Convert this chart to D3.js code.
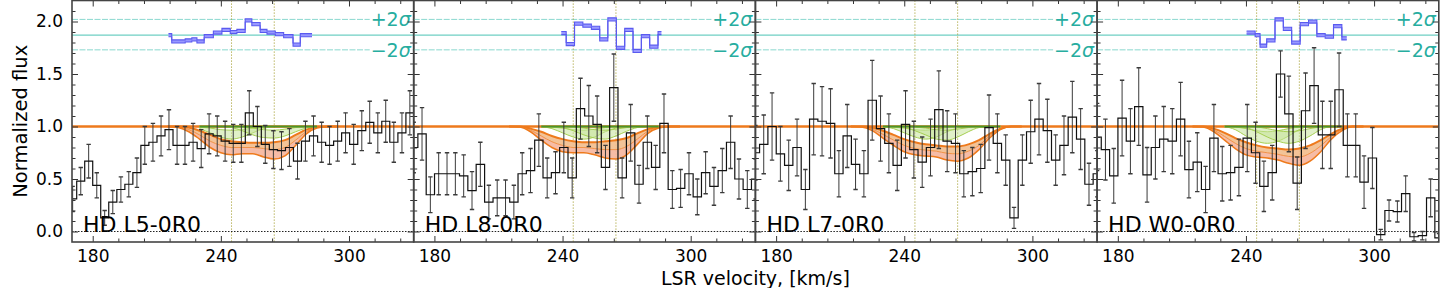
<!DOCTYPE html>
<html>
<head>
<meta charset="utf-8">
<script src="https://cdn.jsdelivr.net/npm/d3@7"></script>
<style>
  body { margin: 0; background: #fff; }
  svg { display: block; font-family: "DejaVu Sans", sans-serif; }
</style>
</head>
<body>
<svg id="chart" width="1440" height="288"></svg>
<script>
// ---- values ----
const panelNames = ["HD L5-0R0", "HD L8-0R0", "HD L7-0R0", "HD W0-0R0"];

// bin centres (km/s)
const velocityL5 = [170.6, 174.4, 178.1, 181.9, 185.6, 189.4, 193.2, 196.9, 200.7, 204.4, 208.2, 212.0, 215.7, 219.5, 223.2,
  227.0, 230.8, 234.5, 238.3, 242.0, 245.8, 249.6, 253.3, 257.1, 260.8, 264.6, 268.4, 272.1, 275.9, 279.6, 283.4,
  287.2, 290.9, 294.7, 298.4, 302.2, 306.0, 309.7, 313.5, 317.2, 321.0, 324.8, 328.5, 332.3];
const velocity = [170.3, 174.2, 178.1, 182.0, 185.9, 189.8, 193.7, 197.6, 201.5, 205.5, 209.4, 213.3, 217.2, 221.1, 225.0,
  228.9, 232.8, 236.7, 240.6, 244.5, 248.4, 252.3, 256.2, 260.1, 264.0, 267.9, 271.9, 275.8, 279.7, 283.6, 287.5,
  291.4, 295.3, 299.2, 303.1, 307.0, 310.9, 314.8, 318.7, 322.6, 326.5, 330.4];

const fluxL5 = [0.31, 0.48, 0.67, 0.44, 0.13, 0.28, 0.40, 0.45, 0.56, 0.82, 0.85, 0.91, 0.97, 0.82, 0.82, 0.85, 0.79, 0.93,
  0.91, 0.86, 0.84, 0.84, 1.13, 1.00, 0.83, 0.78, 0.77, 0.80, 0.67, 0.86, 0.91, 0.85, 0.82, 0.86, 0.94, 0.83, 0.96, 1.04,
  0.94, 1.05, 0.85, 0.94, 1.13, 1.13];
const errL5 = [0.12, 0.13, 0.16, 0.12, 0.07, 0.11, 0.12, 0.12, 0.14, 0.18, 0.18, 0.19, 0.19, 0.18, 0.18, 0.18, 0.18, 0.19,
  0.19, 0.19, 0.18, 0.18, 0.21, 0.19, 0.18, 0.18, 0.18, 0.18, 0.17, 0.19, 0.19, 0.19, 0.18, 0.19, 0.19, 0.19, 0.19, 0.20,
  0.19, 0.20, 0.19, 0.19, 0.21, 0.21];

const fluxL8 = [0.80, 0.93, 0.35, 0.55, 0.55, 0.55, 0.53, 0.39, 0.64, 0.28, 0.32, 0.32, 0.28, 0.55, 0.58, 0.87, 0.51, 0.56,
  0.80, 0.51, 1.17, 1.10, 1.02, 0.61, 1.37, 0.51, 0.94, 0.45, 0.85, 0.61, 1.03, 0.40, 0.41, 0.55, 0.33, 0.56, 0.43, 0.58,
  0.85, 0.50, 0.40, 0.50];
const errL8 = [0.24, 0.25, 0.17, 0.20, 0.20, 0.20, 0.20, 0.18, 0.21, 0.16, 0.17, 0.17, 0.16, 0.20, 0.21, 0.25, 0.19, 0.20,
  0.24, 0.19, 0.29, 0.29, 0.27, 0.21, 0.32, 0.19, 0.27, 0.18, 0.25, 0.21, 0.28, 0.18, 0.18, 0.20, 0.17, 0.20, 0.18, 0.21,
  0.25, 0.19, 0.18, 0.19];

const fluxL7 = [0.75, 0.83, 1.00, 0.74, 0.63, 0.80, 0.40, 1.07, 1.05, 1.03, 0.55, 0.91, 0.64, 0.55, 1.25, 0.98, 0.84, 0.63,
  1.02, 0.78, 0.66, 0.80, 1.16, 0.86, 0.84, 0.55, 0.57, 0.60, 0.99, 0.84, 0.68, 0.13, 0.68, 0.95, 1.07, 0.96, 0.68, 0.82,
  1.09, 0.88, 0.45, 0.55];
const errL7 = [0.26, 0.28, 0.32, 0.26, 0.24, 0.27, 0.19, 0.34, 0.33, 0.33, 0.22, 0.30, 0.24, 0.22, 0.38, 0.31, 0.28, 0.24,
  0.32, 0.27, 0.24, 0.27, 0.37, 0.29, 0.28, 0.22, 0.23, 0.23, 0.31, 0.28, 0.24, 0.10, 0.24, 0.30, 0.34, 0.30, 0.24, 0.28,
  0.34, 0.29, 0.20, 0.22];

const fluxW0 = [0.90, 0.78, 0.53, 1.08, 0.86, 1.19, 0.54, 0.80, 0.88, 0.86, 1.07, 0.59, 0.66, 0.40, 0.89, 0.55, 0.56, 0.61,
  0.89, 0.75, 0.43, 0.56, 1.50, 1.12, 0.46, 1.15, 1.39, 0.92, 0.92, 1.35, 0.82, 0.82, 0.47, 0.70, -0.03, 0.20, 0.19, 0.36,
  -0.05, -0.04, 0.32, -0.06];
const errW0 = [0.32, 0.29, 0.26, 0.36, 0.31, 0.37, 0.26, 0.30, 0.31, 0.31, 0.35, 0.27, 0.28, 0.22, 0.32, 0.26, 0.26, 0.27,
  0.32, 0.29, 0.24, 0.26, 0.22, 0.36, 0.25, 0.36, 0.36, 0.32, 0.32, 0.35, 0.30, 0.30, 0.25, 0.29, 0.05, 0.10, 0.10, 0.17,
  0.04, 0.04, 0.18, 0.04];

// fitted model (orange envelope) sampled at modelVel
const modelVel = [215, 220, 225, 230, 235, 240, 245, 250, 255, 260, 265, 270, 275, 280, 285, 290, 295];
const orangeHiL5 = [1, 1, 0.99, 0.96, 0.92, 0.88, 0.86, 0.85, 0.845, 0.845, 0.85, 0.87, 0.92, 0.97, 0.995, 1, 1];
const orangeMidL5 = [1, 0.995, 0.97, 0.92, 0.86, 0.82, 0.80, 0.80, 0.80, 0.79, 0.78, 0.80, 0.87, 0.95, 0.99, 1, 1];
const orangeLoL5 = [1, 0.99, 0.95, 0.88, 0.80, 0.75, 0.73, 0.74, 0.74, 0.71, 0.69, 0.72, 0.82, 0.93, 0.985, 1, 1];
const orangeHiL8 = [1, 1, 0.98, 0.95, 0.91, 0.88, 0.86, 0.85, 0.85, 0.86, 0.87, 0.89, 0.935, 0.975, 0.995, 1, 1];
const orangeMidL8 = [1, 1, 0.965, 0.91, 0.855, 0.82, 0.80, 0.80, 0.79, 0.78, 0.78, 0.81, 0.88, 0.955, 0.99, 1, 1];
const orangeLoL8 = [1, 0.995, 0.95, 0.87, 0.80, 0.76, 0.75, 0.75, 0.73, 0.70, 0.69, 0.73, 0.83, 0.935, 0.985, 1, 1];
const orangeHiL7 = [1, 1, 0.99, 0.96, 0.92, 0.88, 0.85, 0.83, 0.82, 0.81, 0.81, 0.83, 0.87, 0.93, 0.98, 1, 1];
const orangeMidL7 = [1, 1, 0.975, 0.925, 0.87, 0.82, 0.79, 0.775, 0.765, 0.745, 0.74, 0.765, 0.82, 0.91, 0.975, 1, 1];
const orangeLoL7 = [1, 0.995, 0.96, 0.89, 0.82, 0.76, 0.73, 0.72, 0.71, 0.68, 0.67, 0.70, 0.78, 0.89, 0.97, 1, 1];
const orangeHiW0 = [1, 1, 0.98, 0.94, 0.89, 0.85, 0.82, 0.80, 0.79, 0.78, 0.79, 0.82, 0.87, 0.93, 0.98, 1, 1];
const orangeMidW0 = [1, 1, 0.965, 0.905, 0.84, 0.79, 0.765, 0.75, 0.735, 0.715, 0.71, 0.745, 0.815, 0.905, 0.97, 1, 1];
const orangeLoW0 = [1, 0.995, 0.95, 0.87, 0.79, 0.73, 0.71, 0.70, 0.68, 0.65, 0.63, 0.67, 0.76, 0.88, 0.96, 1, 1];

// single components (green envelopes) sampled at greenVel
const greenVel = [230, 235, 240, 245, 250, 255, 260, 265, 270, 275, 280, 285];
const greenAHiL5 = [0.995, 0.985, 0.97, 0.965, 0.97, 0.985, 0.995, 1, 1, 1, 1, 1];
const greenALoL5 = [0.98, 0.94, 0.90, 0.88, 0.90, 0.94, 0.98, 1, 1, 1, 1, 1];
const greenBHiL5 = [1, 1, 1, 1, 0.995, 0.985, 0.97, 0.965, 0.975, 0.99, 1, 1];
const greenBLoL5 = [1, 1, 1, 0.99, 0.96, 0.92, 0.895, 0.89, 0.91, 0.95, 0.985, 1];
const greenAHiL8 = [1, 0.995, 0.985, 0.97, 0.965, 0.975, 0.99, 1, 1, 1, 1, 1];
const greenALoL8 = [1, 0.98, 0.94, 0.90, 0.88, 0.90, 0.95, 0.985, 1, 1, 1, 1];
const greenBHiL8 = [1, 1, 1, 0.995, 0.985, 0.97, 0.965, 0.975, 0.99, 1, 1, 1];
const greenBLoL8 = [1, 1, 0.99, 0.96, 0.92, 0.89, 0.88, 0.91, 0.955, 0.99, 1, 1];
const greenAHiL7 = [1, 0.995, 0.985, 0.97, 0.965, 0.975, 0.99, 1, 1, 1, 1, 1];
const greenALoL7 = [1, 0.98, 0.94, 0.90, 0.88, 0.90, 0.95, 0.985, 1, 1, 1, 1];
const greenBHiL7 = [1, 1, 1, 0.995, 0.985, 0.97, 0.965, 0.975, 0.99, 1, 1, 1];
const greenBLoL7 = [1, 1, 0.99, 0.96, 0.92, 0.88, 0.87, 0.90, 0.95, 0.99, 1, 1];
const greenAHiW0 = [1, 0.995, 0.98, 0.96, 0.95, 0.96, 0.98, 0.995, 1, 1, 1, 1];
const greenALoW0 = [1, 0.97, 0.91, 0.86, 0.84, 0.86, 0.91, 0.97, 1, 1, 1, 1];
const greenBHiW0 = [1, 1, 1, 0.995, 0.98, 0.96, 0.95, 0.96, 0.98, 0.995, 1, 1];
const greenBLoW0 = [1, 1, 0.99, 0.95, 0.90, 0.86, 0.84, 0.86, 0.91, 0.97, 1, 1];

// residual strip (blue steps): step edges and values
const residVelL5 = [215.5, 217.0, 223.3, 226.4, 228.8, 232.2, 236.5, 240.5, 244.4, 247.5, 251.4, 254.5, 258.4, 261.6,
  265.5, 269.4, 273.8, 277.2, 282.7];
const residL5 = [1.87, 1.81, 1.82, 1.83, 1.81, 1.86, 1.895, 1.92, 1.90, 1.91, 2.01, 1.975, 1.91, 1.895, 1.88, 1.86, 1.78, 1.87];
const residVelL8 = [239.4, 241.7, 245.6, 249.5, 253.5, 257.4, 261.2, 265.2, 269.1, 273.0, 276.9, 280.8, 284.7, 286.3];
const residL8 = [1.89, 1.785, 1.98, 1.96, 1.94, 1.83, 2.02, 1.75, 1.92, 1.72, 1.86, 1.76, 1.89];
const residVelW0 = [240.3, 244.3, 246.6, 249.7, 253.6, 257.5, 261.4, 265.4, 269.3, 273.2, 277.1, 281.0, 284.9, 287.2];
const residW0 = [1.895, 1.87, 1.77, 1.82, 2.02, 1.93, 1.80, 1.975, 2.00, 1.87, 1.855, 1.955, 1.84];

const componentVel = [245, 265];
const sigmaLevels = [2.02, 1.87, 1.73];
const sigmaLabels = ["+2", null, "\u22122"];
const xMajorTicks = [180, 240, 300];
const xMinorTicks = [192, 204, 216, 228, 252, 264, 276, 288, 312, 324];
const yMajorTicks = [0, 0.5, 1.0, 1.5, 2.0];
const yMinorTicks = [0.1, 0.2, 0.3, 0.4, 0.6, 0.7, 0.8, 0.9, 1.1, 1.2, 1.3, 1.4, 1.6, 1.7, 1.8, 1.9, 2.1];

const panels = [
  { name: panelNames[0], vel: velocityL5, flux: fluxL5, err: errL5, oHi: orangeHiL5, oMid: orangeMidL5, oLo: orangeLoL5,
    gA: [greenAHiL5, greenALoL5], gB: [greenBHiL5, greenBLoL5], rVel: residVelL5, r: residL5 },
  { name: panelNames[1], vel: velocity, flux: fluxL8, err: errL8, oHi: orangeHiL8, oMid: orangeMidL8, oLo: orangeLoL8,
    gA: [greenAHiL8, greenALoL8], gB: [greenBHiL8, greenBLoL8], rVel: residVelL8, r: residL8 },
  { name: panelNames[2], vel: velocity, flux: fluxL7, err: errL7, oHi: orangeHiL7, oMid: orangeMidL7, oLo: orangeLoL7,
    gA: [greenAHiL7, greenALoL7], gB: [greenBHiL7, greenBLoL7], rVel: [], r: [] },
  { name: panelNames[3], vel: velocity, flux: fluxW0, err: errW0, oHi: orangeHiW0, oMid: orangeMidW0, oLo: orangeLoW0,
    gA: [greenAHiW0, greenALoW0], gB: [greenBHiW0, greenBLoW0], rVel: residVelW0, r: residW0 }
];

// ---- layout ----
const plotLeft = 72, panelW = 341.7, plotTop = 0.5, plotBottom = 242;
const svg = d3.select("#chart");
const yScale = d3.scaleLinear().domain([-0.1, 2.2]).range([plotBottom, plotTop]);

const orange = "#ee7a1c", teal = "#27ada0";

function smoothLine(x, vs, vals) {
  return d3.line().x((d, j) => x(vs[j])).y(d => yScale(d)).curve(d3.curveMonotoneX)(vals);
}
function smoothArea(x, vs, hi, lo) {
  return d3.area().x((d, j) => x(vs[j])).y0((d, j) => yScale(lo[j])).y1(d => yScale(d)).curve(d3.curveMonotoneX)(hi);
}

function drawPanel(p, i) {
  const y = yScale;
  const g = svg.append("g").attr("transform", `translate(${plotLeft + i * panelW},0)`);
  g.append("clipPath").attr("id", "clip" + i).append("rect")
    .attr("x", 0).attr("y", plotTop).attr("width", panelW).attr("height", plotBottom - plotTop);
  const plot = g.append("g").attr("clip-path", `url(#clip${i})`);
  const x = d3.scaleLinear().domain([170.3, 330.3]).range([0, panelW]);

  // sigma levels of the residual strip
  sigmaLevels.forEach((lv, j) => {
    plot.append("line").attr("x1", 0).attr("x2", panelW).attr("y1", y(lv)).attr("y2", y(lv))
      .attr("stroke", j === 1 ? "#6fcfc3" : "#8ad8cf").attr("stroke-width", j === 1 ? 1.3 : 1)
      .attr("stroke-dasharray", j === 1 ? null : "6,1.5");
  });

  // component centres
  componentVel.forEach(v => {
    plot.append("line").attr("x1", x(v)).attr("x2", x(v)).attr("y1", plotTop).attr("y2", plotBottom)
      .attr("stroke", "#a9a33a").attr("stroke-width", 1).attr("stroke-dasharray", "1.2,1.8");
  });

  // zero level
  plot.append("line").attr("x1", 0).attr("x2", panelW).attr("y1", y(0)).attr("y2", y(0))
    .attr("stroke", "#222").attr("stroke-width", 1).attr("stroke-dasharray", "1.5,1.5");

  // continuum
  plot.append("line").attr("x1", 0).attr("x2", panelW).attr("y1", y(1)).attr("y2", y(1))
    .attr("stroke", orange).attr("stroke-width", 2.4);

  // model envelope
  plot.append("path").attr("d", smoothArea(x, modelVel, p.oHi, p.oMid)).attr("fill", "#f2bd8c").attr("opacity", 0.9);
  plot.append("path").attr("d", smoothArea(x, modelVel, p.oMid, p.oLo)).attr("fill", "#f5b59c").attr("opacity", 0.9);
  plot.append("path").attr("d", smoothLine(x, modelVel, p.oMid)).attr("fill", "none")
    .attr("stroke", orange).attr("stroke-width", 0.9).attr("opacity", 0.8);
  plot.append("path").attr("d", smoothLine(x, modelVel, p.oLo)).attr("fill", "none")
    .attr("stroke", orange).attr("stroke-width", 1.5);
  plot.append("path").attr("d", smoothLine(x, modelVel, p.oHi)).attr("fill", "none")
    .attr("stroke", orange).attr("stroke-width", 2);

  // individual components
  [p.gA, p.gB].forEach(c => {
    plot.append("path").attr("d", smoothArea(x, greenVel, c[0], c[1])).attr("fill", "#c6e49a").attr("opacity", 0.55);
    c.forEach(vals => {
      plot.append("path").attr("d", smoothLine(x, greenVel, vals)).attr("fill", "none")
        .attr("stroke", "#a6cf52").attr("stroke-width", 1);
    });
  });
  plot.append("line").attr("x1", x(d3.min(greenVel))).attr("x2", x(d3.max(greenVel)))
    .attr("y1", y(1)).attr("y2", y(1)).attr("stroke", "#4b9528").attr("stroke-width", 2.2);

  // residual strip
  if (p.r.length) {
    const pts = p.r.concat([p.r[p.r.length - 1]]);
    const band = d3.area().curve(d3.curveStepAfter).x((d, j) => x(p.rVel[j]));
    plot.append("path").attr("d", band.y0(d => y(d - 0.015)).y1(d => y(d + 0.015))(pts))
      .attr("fill", "#9898ff");
    const edge = d3.line().curve(d3.curveStepAfter).x((d, j) => x(p.rVel[j]));
    [-0.015, 0.015].forEach(o => {
      plot.append("path").attr("d", edge.y(d => y(d + o))(pts)).attr("fill", "none")
        .attr("stroke", "#5a5af0").attr("stroke-width", 1.1);
    });
  }

  // spectrum with error bars
  const bars = plot.append("g").attr("stroke", "#3a3a3a").attr("stroke-width", 1);
  p.flux.forEach((f, j) => {
    const cx = x(p.vel[j]), e = p.err[j];
    bars.append("line").attr("x1", cx).attr("x2", cx).attr("y1", y(f - e)).attr("y2", y(f + e));
    [f - e, f + e].forEach(v => {
      bars.append("line").attr("x1", cx - 2.2).attr("x2", cx + 2.2).attr("y1", y(v)).attr("y2", y(v))
        .attr("stroke-width", 1.4);
    });
  });
  plot.append("path")
    .attr("d", d3.line().x((d, j) => x(p.vel[j])).y(d => y(d)).curve(d3.curveStep)(p.flux))
    .attr("fill", "none").attr("stroke", "#111").attr("stroke-width", 1.2);

  // sigma labels sit on a white box
  sigmaLevels.forEach((lv, j) => {
    if (!sigmaLabels[j]) return;
    g.append("rect").attr("x", panelW - 44).attr("y", y(lv) - 10).attr("width", 43).attr("height", 20)
      .attr("fill", "#fff");
    const t = g.append("text").attr("x", panelW - 3).attr("y", y(lv) + 7).attr("text-anchor", "end")
      .attr("fill", teal).attr("font-size", 19);
    t.append("tspan").text(sigmaLabels[j]);
    t.append("tspan").attr("font-style", "italic").text("\u03c3");
  });

  g.append("text").attr("x", 11).attr("y", 232).attr("font-size", 22).attr("fill", "#000").text(p.name);

  // axes, ticks pointing inwards
  const styleAxis = a => {
    a.select(".domain").remove();
    a.selectAll(".tick line").attr("stroke", "#333");
    a.selectAll(".tick text").attr("font-size", 17).attr("fill", "#000").attr("font-family", "DejaVu Sans");
  };
  g.append("g").attr("transform", `translate(0,${plotBottom})`)
    .call(d3.axisBottom(x).tickValues(xMajorTicks).tickSize(-6).tickPadding(8).tickFormat(d3.format("d")))
    .call(styleAxis);
  g.append("g").attr("transform", `translate(0,${plotBottom})`)
    .call(d3.axisBottom(x).tickValues(xMinorTicks).tickSize(-3.5).tickFormat("")).call(styleAxis);
  g.append("g").attr("transform", `translate(0,${plotTop})`)
    .call(d3.axisTop(x).tickValues(xMajorTicks).tickSize(-6).tickFormat("")).call(styleAxis);
  g.append("g").attr("transform", `translate(0,${plotTop})`)
    .call(d3.axisTop(x).tickValues(xMinorTicks).tickSize(-3.5).tickFormat("")).call(styleAxis);
  g.append("g")
    .call(d3.axisLeft(y).tickValues(yMajorTicks).tickSize(-6).tickPadding(9)
      .tickFormat(i === 0 ? d3.format(".1f") : ""))
    .call(styleAxis);
  g.append("g").call(d3.axisLeft(y).tickValues(yMinorTicks).tickSize(-3.5).tickFormat("")).call(styleAxis);
  g.append("g").attr("transform", `translate(${panelW},0)`)
    .call(d3.axisRight(y).tickValues(yMajorTicks).tickSize(-6).tickFormat("")).call(styleAxis);
  g.append("g").attr("transform", `translate(${panelW},0)`)
    .call(d3.axisRight(y).tickValues(yMinorTicks).tickSize(-3.5).tickFormat("")).call(styleAxis);

  g.append("rect").attr("x", 0).attr("y", plotTop).attr("width", panelW).attr("height", plotBottom - plotTop)
    .attr("fill", "none").attr("stroke", "#444").attr("stroke-width", 1.6);
}

panels.forEach(drawPanel);

svg.append("text").attr("x", plotLeft + 2 * panelW).attr("y", 284.5).attr("text-anchor", "middle")
  .attr("font-size", 19).text("LSR velocity, [km/s]");
svg.append("text").attr("transform", `translate(27,${(plotTop + plotBottom) / 2}) rotate(-90)`)
  .attr("text-anchor", "middle").attr("font-size", 19.5).text("Normalized flux");
</script>
</body>
</html>
